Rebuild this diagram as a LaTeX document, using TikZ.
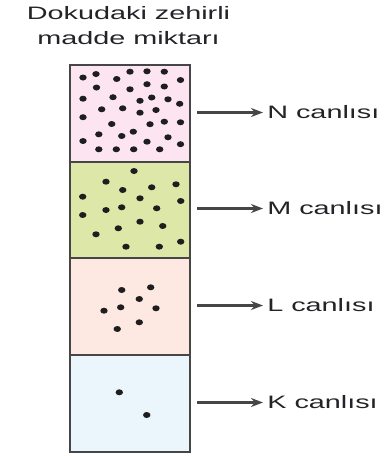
\documentclass[tikz,border=0pt]{standalone}
\usepackage{fontspec}
\setmainfont{Liberation Sans}
\usepackage{tikz}
\usetikzlibrary{arrows.meta}

\definecolor{layerN}{RGB}{252,229,240}
\definecolor{layerM}{RGB}{221,232,168}
\definecolor{layerL}{RGB}{253,232,226}
\definecolor{layerK}{RGB}{235,246,252}
\definecolor{edgegray}{RGB}{70,70,70}
\definecolor{dotgray}{RGB}{30,30,30}
\definecolor{txtgray}{RGB}{35,35,40}

\begin{document}
\begin{tikzpicture}[x=1pt,y=-1pt,
	layer/.style={draw=edgegray,line width=2pt,minimum width=120pt,minimum height=97pt,inner sep=0pt,outer sep=0pt,anchor=north west},
	lbl/.style={font=\fontsize{18}{25}\selectfont,text=txtgray,xscale=1.6,transform shape,inner sep=0pt},
	pointer/.style={-{Stealth[length=12pt,width=9pt]},line width=2.3pt,draw=edgegray,shorten <=7pt,shorten >=4pt},
	spot/.style={fill=dotgray}]
	
	\useasboundingbox (0,0) rectangle (391,456);
	
	% title
	\node[lbl, align=center, anchor=north] (title) at (128.5,6) {Dokudaki zehirli\\madde miktarı};
	
	% the four layers, top to bottom
	\node[layer, fill=layerN] (boxN) at (70,65) {};
	\node[layer, fill=layerM] (boxM) at (70,162) {};
	\node[layer, fill=layerL] (boxL) at (70,258) {};
	\node[layer, fill=layerK] (boxK) at (70,355) {};
	
	% particles
	\foreach \x/\y in {83/77.5, 96/74, 116.7/79, 130/71.7, 147/71.3, 164.3/71.7, 180.5/80,
		96.5/87.5, 130/89.3, 147/84.2, 164.3/86.5,
		83/98.7, 113/97.2, 140/100.8, 151.7/97.5, 168/99.3, 179.7/103.8,
		101.7/109.3, 122.7/108.3, 140/112.7, 156/110,
		83/117.2, 111.7/124, 150/124.2, 164.3/121.7, 180.5/122.3,
		98.8/134.3, 121.7/136, 133.3/131.7, 83/141, 147/141.7, 168/137.3, 180.5/144.2,
		98.8/149.3, 116.3/149.3, 133.7/149.3, 159.7/149.3}
	\fill[spot] (\x,\y) ellipse (3.7pt and 3pt);
	
	\foreach \x/\y in {134/171, 106/181.7, 122.7/190, 151.7/187.3, 176/184.3,
		82.7/196.7, 140/198.3, 180.7/201, 106/210, 121.7/207.3, 156.7/208.3,
		82.7/215, 118.3/228.3, 140/221.7, 162.7/226, 96/234.3,
		126/246.7, 159.3/246.7, 180.7/241.7}
	\fill[spot] (\x,\y) ellipse (3.7pt and 3pt);
	
	\foreach \x/\y in {121.7/290, 150.7/287.3, 139.3/299, 104/310.7, 120.7/307.3,
		156/308.3, 139.3/322.3, 117.3/329}
	\fill[spot] (\x,\y) ellipse (3.7pt and 3pt);
	
	\foreach \x/\y in {119.3/392.3, 146.7/415}
	\fill[spot] (\x,\y) ellipse (3.7pt and 3pt);
	
	% labels and arrows
	\node[lbl, anchor=west] (lblN) at (267,112.5) {N canlısı};
	\node[lbl, anchor=west] (lblM) at (267,208.5) {M canlısı};
	\node[lbl, anchor=west] (lblL) at (267,305.5) {L canlısı};
	\node[lbl, anchor=west] (lblK) at (267,402.5) {K canlısı};
	
	\draw[pointer] (boxN.east |- lblN.west) -- (lblN.west);
	\draw[pointer] (boxM.east |- lblM.west) -- (lblM.west);
	\draw[pointer] (boxL.east |- lblL.west) -- (lblL.west);
	\draw[pointer] (boxK.east |- lblK.west) -- (lblK.west);
\end{tikzpicture}
\end{document}
